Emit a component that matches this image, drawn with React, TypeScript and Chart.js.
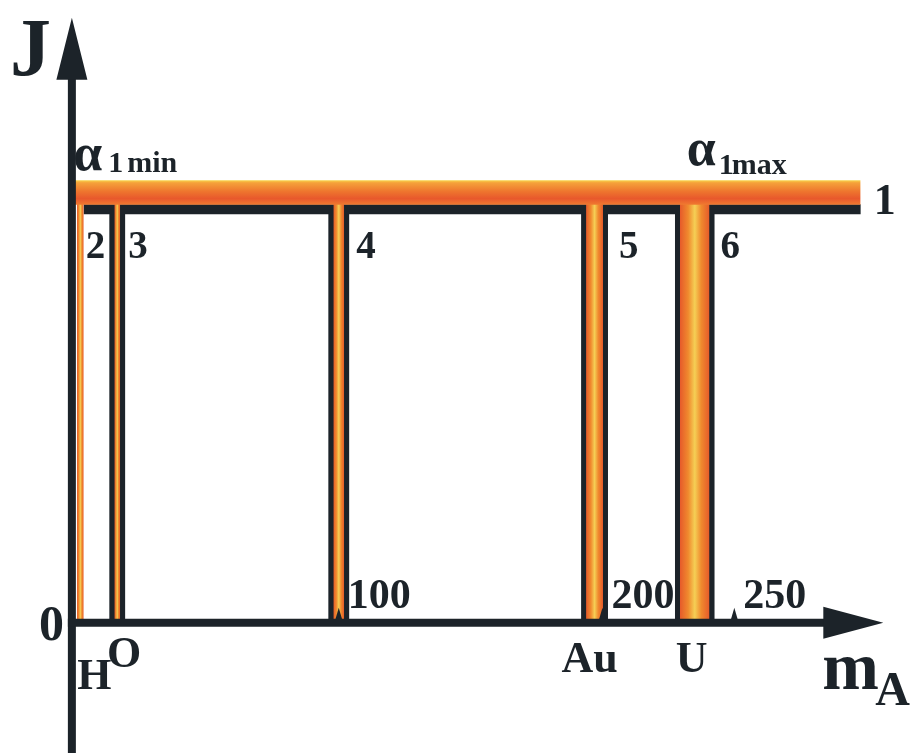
import React, { useEffect, useRef } from 'react';
import { Chart, registerables } from 'chart.js';

Chart.register(...registerables);

// ---------------- data ----------------
const elementLabels = ['H', 'O', '', 'Au', 'U'];
const peakNumbers = ['2', '3', '4', '5', '6'];
const peakMasses = [2, 16, 100, 197, 235];
const peakWidths = [2.6, 2.2, 4.1, 6.4, 11.2];
const tickValues = [100, 200, 250];
const tickLabels = ['100', '200', '250'];
const lineOneLevel = 1;
const bandLevels = [1.011, 1.07];
const bandMassRange = [-0.7, 297.9];
const lineLabel = '1';
const originLabel = '0';
const yAxisTitle = 'J';
const xAxisTitle = ['m', 'A'];
const alphaMinLabel = ['α', '1', 'min'];
const alphaMaxLabel = ['α', '1', 'max'];

// ---------------- layout / style ----------------
const W = 916;
const H = 753;
const X_MIN = -26.56;
const X_MAX = 317.0;
const Y_MIN = -0.303;
const Y_MAX = 1.494;
const Y_AXIS_MASS = -1.2;
const X_AXIS_END = 306.5;
const Y_AXIS_TOP = 1.463;
const INK = '#1c2329';
const SERIF = '"Liberation Serif", "Times New Roman", serif';
const elementDx = [14, 7, 0, -5, -3];
const elementDy = [66, 44, 0, 49, 49];
const numberDx = [2, 8, 12, 16, 11];

const edgeL = (i: number) => peakMasses[i] - peakWidths[i] / 2;
const edgeR = (i: number) => peakMasses[i] + peakWidths[i] / 2;

const ok = (...v: number[]) => v.every((n) => Number.isFinite(n));

function buildDatasets() {
  const ds: any[] = [];
  // band
  ds.push({
    data: [
      { x: bandMassRange[0], y: bandLevels[1] },
      { x: bandMassRange[1], y: bandLevels[1] },
    ],
    fill: { value: bandLevels[0] },
    borderWidth: 0,
    borderColor: 'rgba(0,0,0,0)',
    pointRadius: 0,
    order: 1,
    backgroundColor: (c: any) => {
      const chart = c.chart;
      const sy = chart.scales && chart.scales.y;
      if (!sy) return '#ef7a2e';
      const y0 = sy.getPixelForValue(bandLevels[1]);
      const y1 = sy.getPixelForValue(bandLevels[0]);
      if (!ok(y0, y1) || y0 === y1) return '#ef7a2e';
      const g = chart.ctx.createLinearGradient(0, y0, 0, y1);
      g.addColorStop(0, '#f8d44c');
      g.addColorStop(0.1, '#f5a23a');
      g.addColorStop(0.45, '#ee762e');
      g.addColorStop(0.75, '#e8582c');
      g.addColorStop(1, '#f07a30');
      return g;
    },
  });
  // peaks
  peakMasses.forEach((m, i) => {
    ds.push({
      data: [
        { x: edgeL(i), y: bandLevels[0] + 0.005 },
        { x: edgeR(i), y: bandLevels[0] + 0.005 },
      ],
      fill: 'origin',
      borderWidth: 0,
      borderColor: 'rgba(0,0,0,0)',
      pointRadius: 0,
      order: 2,
      backgroundColor: (c: any) => {
        const chart = c.chart;
        const sx = chart.scales && chart.scales.x;
        if (!sx) return '#f08a30';
        const x0 = sx.getPixelForValue(edgeL(i));
        const x1 = sx.getPixelForValue(edgeR(i));
        if (!ok(x0, x1) || x0 === x1) return '#f08a30';
        const g = chart.ctx.createLinearGradient(x0, 0, x1, 0);
        g.addColorStop(0, '#e65a2a');
        g.addColorStop(0.28, '#f08a2e');
        g.addColorStop(0.5, '#f5cf55');
        g.addColorStop(0.72, '#f08a2e');
        g.addColorStop(1, '#e65a2a');
        return g;
      },
    });
  });
  // black outline boxes of line 1
  const boxes: { x: number; y: number }[][] = [];
  boxes.push([
    { x: edgeR(0), y: lineOneLevel },
    { x: edgeL(1), y: lineOneLevel },
    { x: edgeL(1), y: 0 },
  ]);
  for (let i = 1; i < peakMasses.length - 1; i++) {
    boxes.push([
      { x: edgeR(i), y: 0 },
      { x: edgeR(i), y: lineOneLevel },
      { x: edgeL(i + 1), y: lineOneLevel },
      { x: edgeL(i + 1), y: 0 },
    ]);
  }
  const last = peakMasses.length - 1;
  boxes.push([
    { x: edgeR(last), y: 0 },
    { x: edgeR(last), y: lineOneLevel },
    { x: bandMassRange[1], y: lineOneLevel },
  ]);
  boxes.forEach((b) => {
    ds.push({
      data: b,
      fill: false,
      borderColor: INK,
      borderWidth: 10,
      borderJoinStyle: 'miter',
      borderCapStyle: 'butt',
      pointRadius: 0,
      tension: 0,
      order: 3,
    });
  });
  return ds;
}

const annotate = {
  id: 'annotate',
  afterDatasetsDraw(chart: any) {
    const { ctx } = chart;
    const sx = chart.scales.x;
    const sy = chart.scales.y;
    const px = (v: number) => sx.getPixelForValue(v);
    const py = (v: number) => sy.getPixelForValue(v);
    const text = (s: string, x: number, y: number, size: number, align: CanvasTextAlign = 'left') => {
      ctx.font = `bold ${size}px ${SERIF}`;
      ctx.textAlign = align;
      ctx.textBaseline = 'alphabetic';
      ctx.fillText(s, x, y);
    };
    const ax = px(Y_AXIS_MASS);
    const ay = py(0);
    ctx.save();
    ctx.fillStyle = INK;
    ctx.strokeStyle = INK;
    ctx.lineCap = 'butt';

    // y axis
    const yTip = py(Y_AXIS_TOP);
    ctx.lineWidth = 8;
    ctx.beginPath();
    ctx.moveTo(ax, chart.height);
    ctx.lineTo(ax, yTip + 50);
    ctx.stroke();
    ctx.beginPath();
    ctx.moveTo(ax, yTip);
    ctx.lineTo(ax + 15.5, yTip + 62);
    ctx.lineTo(ax - 15.5, yTip + 62);
    ctx.closePath();
    ctx.fill();

    // x axis
    const xTip = px(X_AXIS_END);
    ctx.lineWidth = 8;
    ctx.beginPath();
    ctx.moveTo(ax - 4, ay);
    ctx.lineTo(xTip - 50, ay);
    ctx.stroke();
    ctx.beginPath();
    ctx.moveTo(xTip, ay);
    ctx.lineTo(xTip - 60, ay - 16);
    ctx.lineTo(xTip - 60, ay + 16);
    ctx.closePath();
    ctx.fill();

    // ticks and tick labels
    tickValues.forEach((t, i) => {
      const tx = px(t);
      ctx.beginPath();
      ctx.moveTo(tx - 3.5, ay - 3);
      ctx.lineTo(tx, ay - 15);
      ctx.lineTo(tx + 3.5, ay - 3);
      ctx.closePath();
      ctx.fill();
      text(tickLabels[i], tx + 9, ay - 15, 42);
    });

    // axis titles
    text(yAxisTitle, ax - 62, yTip + 57, 82);
    text(originLabel, ax - 8, ay + 17, 50, 'right');
    text(xAxisTitle[0], xTip - 61, ay + 66, 68);
    text(xAxisTitle[1], xTip - 8, ay + 82, 48);

    // element labels
    elementLabels.forEach((lab, i) => {
      if (!lab) return;
      text(lab, px(peakMasses[i]) + elementDx[i], ay + elementDy[i], 44, 'center');
    });

    // peak numbers
    const lineY = py(lineOneLevel);
    peakNumbers.forEach((n, i) => {
      text(n, px(edgeR(i)) + numberDx[i], lineY + 49, 39);
    });

    // line label
    text(lineLabel, px(bandMassRange[1]) + 13, lineY + 5, 44);

    // alpha labels
    const bandTopY = py(bandLevels[1]);
    const aMinX = px(bandMassRange[0]);
    text(alphaMinLabel[0], aMinX, bandTopY - 10, 52);
    text(alphaMinLabel[1], aMinX + 35, bandTopY - 8, 30);
    text(alphaMinLabel[2], aMinX + 54, bandTopY - 8, 30);
    const aMaxX = px(peakMasses[peakMasses.length - 1]);
    text(alphaMaxLabel[0], aMaxX - 8, bandTopY - 15, 52);
    text(alphaMaxLabel[1], aMaxX + 24, bandTopY - 6, 30);
    text(alphaMaxLabel[2], aMaxX + 37, bandTopY - 6, 30);

    ctx.restore();
  },
};

export default function App() {
  const ref = useRef<HTMLCanvasElement | null>(null);
  useEffect(() => {
    if (!ref.current) return;
    const chart = new Chart(ref.current, {
      type: 'line',
      data: { datasets: buildDatasets() },
      options: {
        responsive: false,
        animation: false,
        devicePixelRatio: 1,
        layout: { padding: 0 },
        plugins: {
          legend: { display: false },
          tooltip: { enabled: false },
        },
        events: [],
        scales: {
          x: { type: 'linear', min: X_MIN, max: X_MAX, display: false },
          y: { type: 'linear', min: Y_MIN, max: Y_MAX, display: false },
        },
      } as any,
      plugins: [annotate],
    });
    chart.update();
    return () => chart.destroy();
  }, []);
  return (
    <div style={{ position: 'absolute', left: 0, top: 0, width: W, height: H, background: '#ffffff' }}>
      <canvas ref={ref} width={W} height={H} style={{ display: 'block', width: W, height: H }} />
    </div>
  );
}
